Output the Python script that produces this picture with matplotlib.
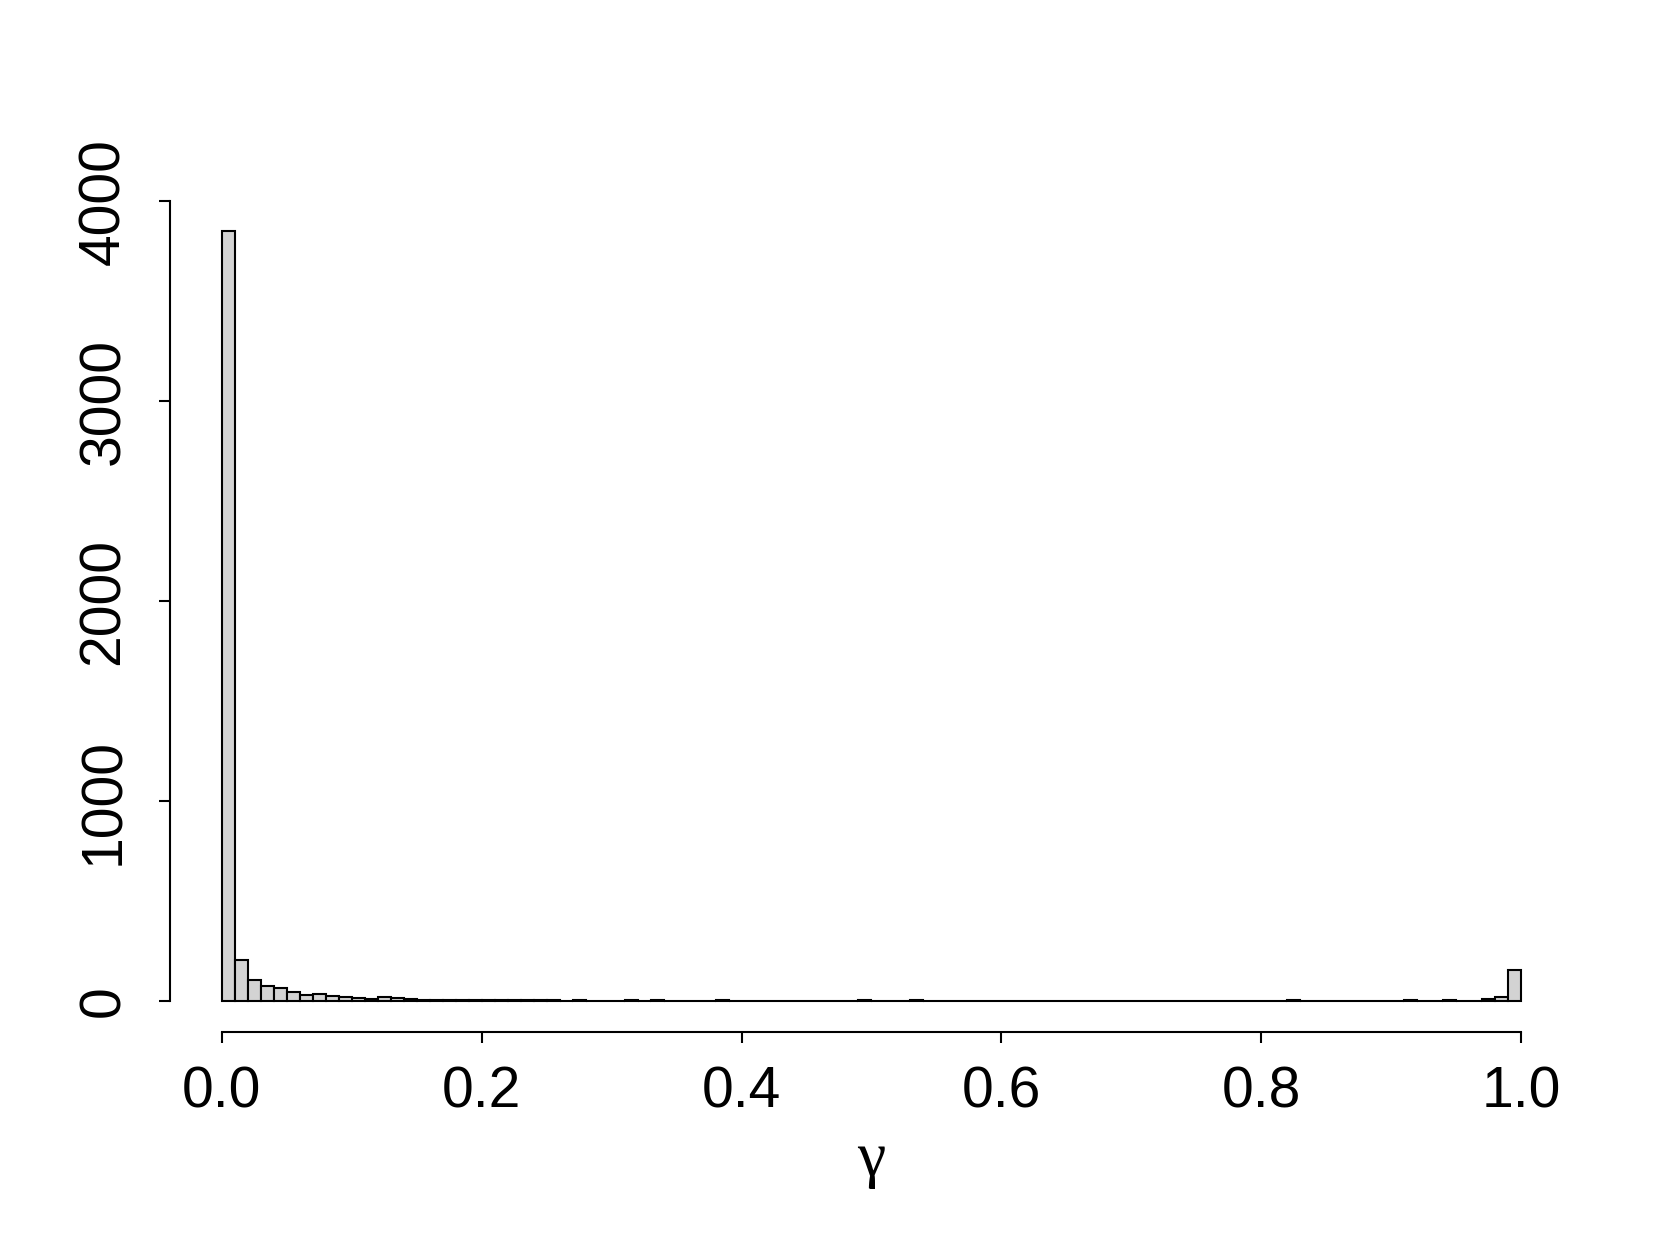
import numpy as np
from matplotlib import pyplot as plt

# histogram counts, 100 bins of width 0.01 on [0, 1]
counts = [3850, 208, 108, 78, 67, 47, 30, 35, 27, 22,
          18, 12, 20, 15, 10, 6, 5, 8, 6, 7,
          8, 6, 5, 7, 4, 5, 3, 4, 3, 3,
          3, 4, 3, 5, 3, 3, 3, 3, 4, 3,
          3, 3, 3, 3, 3, 3, 3, 3, 3, 4,
          3, 3, 3, 4, 3, 3, 3, 3, 3, 3,
          3, 3, 3, 3, 3, 3, 3, 3, 3, 3,
          3, 3, 3, 3, 3, 3, 3, 3, 3, 3,
          3, 3, 4, 3, 3, 3, 3, 3, 3, 3,
          3, 4, 3, 3, 4, 3, 3, 12, 22, 155]
edges = np.linspace(0, 1, len(counts) + 1)
xticks = [0.0, 0.2, 0.4, 0.6, 0.8, 1.0]
xticklabels = ['0.0', '0.2', '0.4', '0.6', '0.8', '1.0']
yticks = [0, 1000, 2000, 3000, 4000]

plt.rcParams['font.family'] = ['Liberation Sans', 'DejaVu Sans']

fig = plt.figure(figsize=(16.61, 12.46), dpi=100)
ax = fig.add_axes([0.1023, 0.1717, 0.8447, 0.6674])

ax.bar(edges[:-1], counts, width=np.diff(edges), align='edge',
       color='#D3D3D3', edgecolor='black', linewidth=1.5)

ax.set_xlim(-0.04, 1.04)
ax.set_ylim(-154, 4004)

for s in ['top', 'right']:
    ax.spines[s].set_visible(False)
ax.spines['left'].set_bounds(0, 4000)
ax.spines['bottom'].set_bounds(0, 1)
ax.spines['left'].set_linewidth(1.5)
ax.spines['bottom'].set_linewidth(1.5)

ax.set_xticks(xticks)
ax.set_xticklabels(xticklabels)
ax.set_yticks(yticks)
ax.set_yticklabels([str(v) for v in yticks], rotation=90, va='center')
ax.tick_params(axis='both', direction='out', length=8, width=1.5,
               labelsize=41)
ax.tick_params(axis='x', pad=16)
ax.tick_params(axis='y', pad=20)

ax.set_xlabel('γ', family=['Liberation Serif', 'DejaVu Serif'],
              fontsize=46, labelpad=8)

fig.savefig('out.png', dpi=100)
